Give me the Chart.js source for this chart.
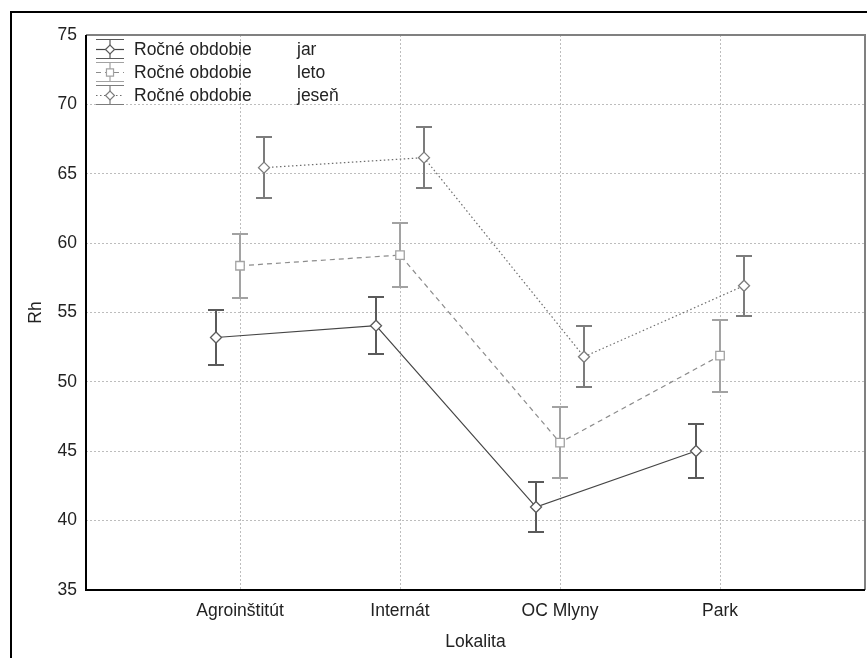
<!DOCTYPE html>
<html>
<head>
<meta charset="utf-8">
<script src="https://cdn.jsdelivr.net/npm/chart.js@4.4.1/dist/chart.umd.min.js"></script>
<style>
    body { margin: 0; background: #ffffff; }
    canvas { display: block; }
</style>
</head>
<body>
<canvas id="rhGrafiks" width="867" height="658"></canvas>
<script>
// Kategorijas uz X ass.
const lokalitates = ["Agroinštitút", "Internát", "OC Mlyny", "Park"];
// Sezonu nosaukumi leģendai.
const sezonas = ["jar", "leto", "jeseň"];
// Vidējās vērtības un kļūdu puses katrai sezonai.
const jarVid = [53.2, 54.05, 40.98, 45.02];
const jarKluda = [2.0, 2.05, 1.8, 1.95];
const letoVid = [58.37, 59.14, 45.62, 51.89];
const letoKluda = [2.3, 2.3, 2.55, 2.6];
const jesenVid = [65.44, 66.16, 51.81, 56.93];
const jesenKluda = [2.2, 2.2, 2.2, 2.15];
// Y ass iedaļas.
const yIedalas = [35, 40, 45, 50, 55, 60, 65, 70, 75];

const fonts = "'Liberation Sans', Arial, sans-serif";
const nobide = 0.15;

// Katras sērijas stils.
const serijas = [
    { nos: sezonas[0], vid: jarVid, kl: jarKluda, krasa: "#454545", kluduKrasa: "#5a5a5a", dash: [], marker: "rectRot", r: 5.5, nob: -nobide },
    { nos: sezonas[1], vid: letoVid, kl: letoKluda, krasa: "#8c8c8c", kluduKrasa: "#a2a2a2", dash: [5, 4], marker: "rect", r: 6, nob: 0 },
    { nos: sezonas[2], vid: jesenVid, kl: jesenKluda, krasa: "#6e6e6e", kluduKrasa: "#7c7c7c", dash: [1.5, 2.5], marker: "rectRot", r: 5.5, nob: nobide }
];

// Šis spraudnis zīmē kļūdu joslas, rāmjus un leģendu.
const kludasSpraudnis = {
    id: "kludas",
    beforeDraw(chart) {
        const ctx = chart.ctx;
        ctx.save();
        ctx.strokeStyle = "#000";
        ctx.lineWidth = 2;
        ctx.setLineDash([]);
        ctx.beginPath();
        ctx.moveTo(11, chart.height);
        ctx.lineTo(11, 12);
        ctx.lineTo(chart.width, 12);
        ctx.stroke();
        ctx.restore();
    },
    beforeDatasetsDraw(chart) {
        const ctx = chart.ctx;
        const yAss = chart.scales.y;
        ctx.save();
        ctx.setLineDash([]);
        chart.data.datasets.forEach((ds, i) => {
            const meta = chart.getDatasetMeta(i);
            ctx.strokeStyle = serijas[i].kluduKrasa;
            ctx.lineWidth = 2;
            meta.data.forEach((pt, j) => {
                const v = serijas[i].vid[j];
                const k = serijas[i].kl[j];
                const yT = Math.round(yAss.getPixelForValue(v + k));
                const yA = Math.round(yAss.getPixelForValue(v - k));
                const x = Math.round(pt.x);
                ctx.beginPath();
                ctx.moveTo(x, yT);
                ctx.lineTo(x, yA);
                ctx.moveTo(x - 8, yT);
                ctx.lineTo(x + 8, yT);
                ctx.moveTo(x - 8, yA);
                ctx.lineTo(x + 8, yA);
                ctx.stroke();
            });
        });
        ctx.restore();
    },
    afterDraw(chart) {
        const ctx = chart.ctx;
        const a = chart.chartArea;
        ctx.save();
        ctx.setLineDash([]);
        // Grafika laukuma rāmis.
        ctx.lineWidth = 2;
        ctx.strokeStyle = "#808080";
        ctx.beginPath();
        ctx.moveTo(a.left, a.top);
        ctx.lineTo(a.right, a.top);
        ctx.lineTo(a.right, a.bottom);
        ctx.stroke();
        ctx.strokeStyle = "#000";
        ctx.beginPath();
        ctx.moveTo(a.left, a.top);
        ctx.lineTo(a.left, a.bottom);
        ctx.lineTo(a.right, a.bottom);
        ctx.stroke();

        // Leģenda.
        ctx.font = "17.5px " + fonts;
        ctx.textBaseline = "middle";
        serijas.forEach((s, i) => {
            const yc = a.top + 14 + i * 23;
            const x0 = a.left + 10;
            const x1 = x0 + 28;
            const xc = (x0 + x1) / 2;
            ctx.strokeStyle = s.kluduKrasa;
            ctx.lineWidth = 1.2;
            ctx.setLineDash([]);
            ctx.beginPath();
            ctx.moveTo(x0, yc - 9.5);
            ctx.lineTo(x1, yc - 9.5);
            ctx.moveTo(x0, yc + 9.5);
            ctx.lineTo(x1, yc + 9.5);
            ctx.moveTo(xc, yc - 9.5);
            ctx.lineTo(xc, yc + 9.5);
            ctx.stroke();
            ctx.strokeStyle = s.krasa;
            ctx.setLineDash(s.dash);
            ctx.beginPath();
            ctx.moveTo(x0, yc + 0.5);
            ctx.lineTo(x1, yc + 0.5);
            ctx.stroke();
            ctx.setLineDash([]);
            ctx.fillStyle = "#fff";
            ctx.strokeStyle = s.kluduKrasa;
            ctx.lineWidth = 1.2;
            Chart.helpers.drawPoint(ctx, { pointStyle: s.marker, radius: s.r - 1, borderWidth: 1.2 }, xc, yc + 0.5);
            ctx.fillStyle = "#222";
            ctx.fillText("Ročné obdobie", x0 + 38, yc + 1);
            ctx.fillText(s.nos, x0 + 201, yc + 1);
        });
        ctx.restore();
    }
};

// Datu kopas no masīviem.
const datuKopas = serijas.map((s) => ({
    label: s.nos,
    data: s.vid.map((v, j) => ({ x: j + 1 + s.nob, y: v })),
    borderColor: s.krasa,
    borderWidth: 1.2,
    borderDash: s.dash,
    pointStyle: s.marker,
    pointRadius: s.r,
    pointBorderColor: s.kluduKrasa,
    pointBackgroundColor: "#ffffff",
    pointBorderWidth: 1.3,
    tension: 0,
    fill: false
}));

new Chart(document.getElementById("rhGrafiks").getContext("2d"), {
    type: "line",
    data: { datasets: datuKopas },
    plugins: [kludasSpraudnis],
    options: {
        responsive: false,
        animation: false,
        devicePixelRatio: 1,
        layout: { autoPadding: false, padding: { top: 35, right: 2, left: 0, bottom: 0 } },
        plugins: { legend: { display: false }, tooltip: { enabled: false } },
        scales: {
            x: {
                type: "linear",
                min: 0.0375,
                max: 4.906,
                afterBuildTicks: (ass) => { ass.ticks = lokalitates.map((_, i) => ({ value: i + 1 })); },
                afterFit: (ass) => { ass.height = 68; ass.paddingLeft = 0; ass.paddingRight = 0; },
                ticks: {
                    callback: (v) => lokalitates[Math.round(v) - 1] || "",
                    color: "#222",
                    font: { family: fonts, size: 17.5 },
                    padding: 11,
                    maxRotation: 0
                },
                grid: { color: "#bdbdbd", drawTicks: false, lineWidth: 1 },
                border: { display: false, dash: [2, 2] },
                title: { display: true, text: "Lokalita", color: "#222", font: { family: fonts, size: 17.5 }, padding: { top: 0, bottom: 5 } }
            },
            y: {
                min: 35,
                max: 75,
                afterBuildTicks: (ass) => { ass.ticks = yIedalas.map((v) => ({ value: v })); },
                afterFit: (ass) => { ass.width = 86; },
                ticks: {
                    color: "#222",
                    font: { family: fonts, size: 17.5 },
                    padding: 9
                },
                grid: { color: "#bdbdbd", drawTicks: false, lineWidth: 1 },
                border: { display: false, dash: [2, 2] },
                title: { display: true, text: "Rh", color: "#222", font: { family: fonts, size: 17.5 }, padding: { top: 26, bottom: 0 } }
            }
        }
    }
});
</script>
</body>
</html>
